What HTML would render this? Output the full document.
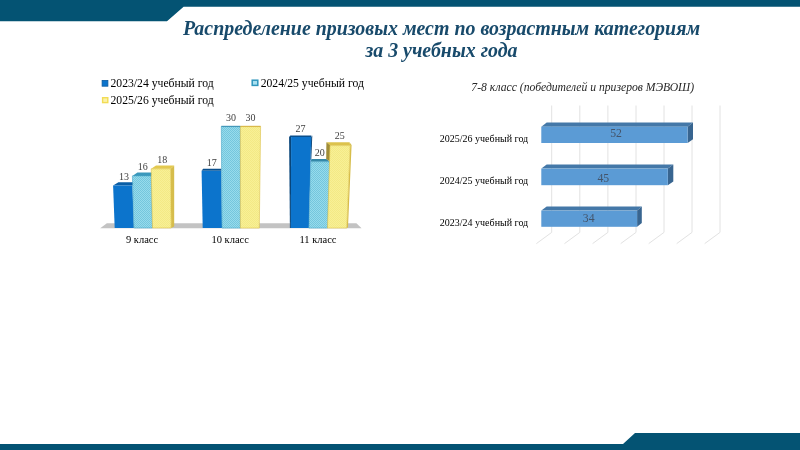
<!DOCTYPE html>
<html lang="ru">
<head>
<meta charset="utf-8">
<title>Распределение призовых мест</title>
<style>
html,body{margin:0;padding:0;background:#fff;}
body{width:800px;height:450px;position:relative;overflow:hidden;font-family:"Liberation Serif",serif;}
#art{position:absolute;left:0;top:0;width:800px;height:450px;}
.t{position:absolute;white-space:nowrap;line-height:1;}
.title{left:0.5px;width:882px;text-align:center;font-style:italic;font-weight:bold;font-size:19.92px;color:#184a6b;}
.leg{font-size:11.68px;color:#000;}
.ax{font-size:10.5px;color:#000;width:60px;text-align:center;}
.dl{font-size:10px;color:#404040;width:30px;text-align:center;}
.rl{font-size:10px;color:#000;}
.rv{font-size:11.7px;color:#44546a;width:40px;text-align:center;}
.rt{font-size:11.67px;font-style:italic;color:#262626;}
</style>
</head>
<body>
<svg id="art" width="800" height="450" viewBox="0 0 800 450">
<defs>
<pattern id="pb" width="2" height="2" patternUnits="userSpaceOnUse"><rect width="2" height="2" fill="#97dbec"/><rect width="1" height="1" fill="#74c6dd"/><rect x="1" y="1" width="1" height="1" fill="#74c6dd"/></pattern>
<pattern id="py" width="2" height="2" patternUnits="userSpaceOnUse"><rect width="2" height="2" fill="#f8f096"/><rect width="1" height="1" fill="#f3e985"/><rect x="1" y="1" width="1" height="1" fill="#f3e985"/></pattern>
</defs>
<!-- header / footer -->
<polygon points="0,0 800,0 800,6.8 183.6,6.8 167,21.2 0,21.2" fill="#045373"/>
<polygon points="0,450 800,450 800,433 635,433 623,444 0,444" fill="#045373"/>
<rect x="102.1" y="80.4" width="5.8" height="5.8" fill="#0c74cc" stroke="#0b5aa0" stroke-width="0.8"/>
<rect x="252.2" y="80.2" width="5.6" height="5.2" fill="#a8e0f0" stroke="#2f96bc" stroke-width="1.5"/>
<rect x="102.6" y="97.7" width="5.2" height="4.9" fill="#fbf2a8" stroke="#f2dc55" stroke-width="1.4"/>
<g id="left">
<!-- floor -->
<polygon points="100.2,228.3 106.9,223.3 356.4,223.3 361.6,228.3" fill="#c3c3c3"/>
<!-- group 1 -->
<polygon points="113.1,185.6 118.4,182.3 137,182.3 132.4,185.6" fill="#0a5ea6"/>
<polygon points="113.1,185.6 132.4,185.6 133.9,228 114.7,228" fill="#0c74cc"/>
<polygon points="132.4,175.9 137.4,172.4 156,172.4 151.2,175.9" fill="#3a98bc"/>
<polygon points="132.4,175.9 151.2,175.9 152.5,228 133.9,228" fill="url(#pb)" stroke="#4aa6c8" stroke-width="0.6"/>
<polygon points="151.2,168.8 156,165.5 174.2,165.5 170.6,168.8" fill="#e3c94f"/>
<polygon points="170.6,168.8 174.2,165.5 174.2,226.5 171.2,228" fill="#d6bd4c"/>
<polygon points="151.2,168.8 170.6,168.8 171.2,228 152.5,228" fill="url(#py)" stroke="#dcc04a" stroke-width="0.6"/>
<!-- group 2 -->
<polygon points="201.6,170.8 203.1,168.8 221.3,168.8 221.3,170.8" fill="#0a4f8c"/>
<polygon points="201.6,170.8 221.3,170.8 222,228.1 202.7,228.1" fill="#0c74cc"/>
<polygon points="221.3,126.6 240.4,126.6 240.4,228.1 222,228.1" fill="url(#pb)" stroke="#4aa6c8" stroke-width="0.6"/>
<polygon points="240.4,126.6 260.6,126.6 259.3,228.1 240.4,228.1" fill="url(#py)" stroke="#dcc04a" stroke-width="0.6"/>
<line x1="221.3" y1="126.3" x2="240.4" y2="126.3" stroke="#2d87ab" stroke-width="0.9"/>
<line x1="240.4" y1="126.3" x2="260.6" y2="126.3" stroke="#d2ad35" stroke-width="0.9"/>
<!-- group 3 -->
<polygon points="289.1,137 290.3,135.4 311.5,135.4 311.2,137" fill="#0a4f8c"/>
<polygon points="289.1,137 291.1,137 290.9,228.1 289.9,228.1" fill="#08457a"/>
<polygon points="291.1,137 311.2,137 308.9,228.1 290.9,228.1" fill="#0c74cc"/>
<polygon points="311.2,137 312.3,135.6 311.3,158.9 310.6,160" fill="#08457a"/>
<polygon points="310.6,161.7 311.4,158.9 326.4,158.9 330,161.7" fill="#3488a8"/>
<polygon points="310.8,161.7 330,161.7 327.5,228.1 308.9,228.1" fill="url(#pb)" stroke="#4aa6c8" stroke-width="0.6"/>
<polygon points="330,145.6 326.4,142.2 349.5,142.2 350.2,145.6" fill="#dcc24c"/>
<polygon points="326.4,142.2 330.3,145.6 330.3,161.7 326.2,158.9" fill="#a08d38"/>
<polygon points="350.2,145.6 349.5,142.2 351.6,145 348,227.2 346.8,228.1" fill="#d6bd4c"/>
<polygon points="330,145.6 350.2,145.6 346.8,228.1 327.5,228.1" fill="url(#py)" stroke="#dcc04a" stroke-width="0.6"/>
</g>
<g id="right">
<g stroke="#e2e2e2" stroke-width="1" fill="none">
<polyline points="551.7,105.5 551.7,232.4 536.4,243.6"/>
<polyline points="579.8,105.5 579.8,232.4 564.5,243.6"/>
<polyline points="607.9,105.5 607.9,232.4 592.6,243.6"/>
<polyline points="636.0,105.5 636.0,232.4 620.7,243.6"/>
<polyline points="664.0,105.5 664.0,232.4 648.7,243.6"/>
<polyline points="692.0,105.5 692.0,232.4 676.7,243.6"/>
<polyline points="720.0,105.5 720.0,232.4 704.7,243.6"/>
</g>
<!-- bar 52 -->
<polygon points="541.3,126.7 546.7,122.6 693,122.6 687.6,126.7" fill="#4478a8"/>
<polygon points="687.6,126.7 693,122.6 693,139.2 687.6,143" fill="#386590"/>
<rect x="541.3" y="126.7" width="146.3" height="16.3" fill="#5b9bd5"/>
<!-- bar 45 -->
<polygon points="541.3,168.6 546.7,164.5 673.3,164.5 667.8,168.6" fill="#4478a8"/>
<polygon points="667.8,168.6 673.3,164.5 673.3,181.4 667.8,185.2" fill="#386590"/>
<rect x="541.3" y="168.6" width="126.5" height="16.6" fill="#5b9bd5"/>
<!-- bar 34 -->
<polygon points="541.3,210.6 546.7,206.4 641.8,206.4 637.1,210.6" fill="#4478a8"/>
<polygon points="637.1,210.6 641.8,206.4 641.8,223 637.1,226.8" fill="#386590"/>
<rect x="541.3" y="210.6" width="95.8" height="16.2" fill="#5b9bd5"/>
</g>
</svg>
<div class="t title" style="top:19.4px">Распределение призовых мест по возрастным категориям</div>
<div class="t title" style="top:40.8px">за 3 учебных года</div>

<div class="t leg" style="left:110.5px;top:78.4px">2023/24 учебный год</div>
<div class="t leg" style="left:260.7px;top:78.4px">2024/25 учебный год</div>
<div class="t leg" style="left:110.5px;top:94.8px">2025/26 учебный год</div>
<div class="t dl" style="left:109px;top:171.5px">13</div>
<div class="t dl" style="left:127.8px;top:161.5px">16</div>
<div class="t dl" style="left:147.2px;top:154.6px">18</div>
<div class="t dl" style="left:196.8px;top:157.8px">17</div>
<div class="t dl" style="left:216px;top:112.5px">30</div>
<div class="t dl" style="left:235.5px;top:112.5px">30</div>
<div class="t dl" style="left:285.6px;top:123.7px">27</div>
<div class="t dl" style="left:304.8px;top:147.7px">20</div>
<div class="t dl" style="left:324.8px;top:130.9px">25</div>
<div class="t ax" style="left:112.1px;top:235.3px">9 класс</div>
<div class="t ax" style="left:200.2px;top:235.3px">10 класс</div>
<div class="t ax" style="left:288px;top:235.3px">11 класс</div>
<div class="t rt" style="left:471.3px;top:81.8px">7-8 класс (победителей и призеров МЭВОШ)</div>
<div class="t rl" style="left:439.8px;top:134.2px">2025/26 учебный год</div>
<div class="t rl" style="left:439.8px;top:176.4px">2024/25 учебный год</div>
<div class="t rl" style="left:439.8px;top:218.2px">2023/24 учебный год</div>
<div class="t rv" style="left:596px;top:128.3px">52</div>
<div class="t rv" style="left:583.3px;top:172.7px">45</div>
<div class="t rv" style="left:568.7px;top:213px">34</div>
</body>
</html>
